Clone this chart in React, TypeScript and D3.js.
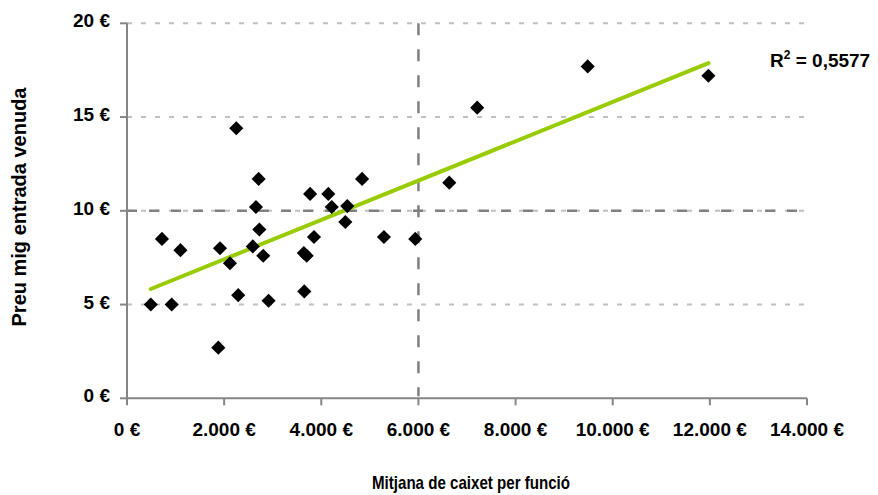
import { scaleLinear, symbol, symbolSquare, formatLocale, line } from "d3";

// average box office per show (€) vs average ticket price (€)
const boxOffice = [
  490, 920, 720, 1100, 2250, 1915, 2120, 2290, 2710, 2655, 2725, 2590, 2805, 2915, 3650,
  3640, 3700, 3770, 3850, 4145, 4215, 4535, 4495, 4840, 5290, 5935, 6635, 7210, 9485, 11970, 1880,
];
const ticketPrice = [
  5.0, 5.0, 8.5, 7.9, 14.4, 8.0, 7.2, 5.5, 11.7, 10.2, 9.0, 8.1, 7.6, 5.2, 5.7,
  7.75, 7.6, 10.9, 8.6, 10.9, 10.2, 10.25, 9.4, 11.7, 8.6, 8.5, 11.5, 15.5, 17.7, 17.2, 2.7,
];
const xTicks = [0, 2000, 4000, 6000, 8000, 10000, 12000, 14000];
const yTicks = [0, 5, 10, 15, 20];
const refX = 6000;
const refY = 10;
const r2Label = "0,5577";

const WIDTH = 878;
const HEIGHT = 495;
const FONT = "'Liberation Sans', Arial, sans-serif";
const AXIS = "#868686";

const locale = formatLocale({ decimal: ",", thousands: ".", grouping: [3], currency: ["", " €"] });
const euro = (v: number) => `${locale.format(",")(v)} €`;

export default function App() {
  const x = scaleLinear().domain([0, 14000]).range([127, 807]);
  const y = scaleLinear().domain([0, 20]).range([398.3, 23.3]);

  // least squares trend line
  const n = boxOffice.length;
  const mx = boxOffice.reduce((a, b) => a + b, 0) / n;
  const my = ticketPrice.reduce((a, b) => a + b, 0) / n;
  let sxy = 0;
  let sxx = 0;
  boxOffice.forEach((v, i) => {
    sxy += (v - mx) * (ticketPrice[i] - my);
    sxx += (v - mx) * (v - mx);
  });
  const slope = sxy / sxx;
  const icpt = my - slope * mx;
  const x0 = Math.min(...boxOffice);
  const x1 = Math.max(...boxOffice);
  const trend = line<number>()
    .x((d) => x(d))
    .y((d) => y(icpt + slope * d))([x0, x1]);

  const diamond = symbol(symbolSquare, 100)();

  return (
    <div style={{ position: "absolute", left: 0, top: 0 }}>
      <svg width={WIDTH} height={HEIGHT} style={{ display: "block", fontFamily: FONT }}>
        <rect width={WIDTH} height={HEIGHT} fill="#fff" />

        {/* Gridlines */}
        {yTicks.filter((t) => t > 0).map((t) => (
          <line key={t} x1={x(0)} x2={x(14000) - 3} y1={y(t)} y2={y(t)} stroke="#c0c0c0" strokeWidth={2} strokeDasharray="5,9" />
        ))}

        {/* Reference lines */}
        <line x1={x(0)} x2={x(14000) - 3} y1={y(refY)} y2={y(refY)} stroke="#808080" strokeWidth={2.5} strokeDasharray="10,12" />
        <line x1={x(refX)} x2={x(refX)} y1={y(20)} y2={y(0) - 2} stroke="#808080" strokeWidth={2.5} strokeDasharray="12,14" />

        {/* Axes */}
        <line x1={x(0)} x2={x(0)} y1={y(20)} y2={y(0)} stroke={AXIS} strokeWidth={2} />
        <line x1={x(0)} x2={x(14000)} y1={y(0)} y2={y(0)} stroke={AXIS} strokeWidth={2} />
        {yTicks.map((t) => (
          <g key={t}>
            <line x1={x(0) - 7} x2={x(0)} y1={y(t)} y2={y(t)} stroke={AXIS} strokeWidth={2} />
            <text x={110} y={y(t) + 4} textAnchor="end" fontSize={19} fontWeight="bold" fill="#000">
              {t} €
            </text>
          </g>
        ))}
        {xTicks.map((t) => (
          <g key={t}>
            <line x1={x(t)} x2={x(t)} y1={y(0)} y2={y(0) + 7} stroke={AXIS} strokeWidth={2} />
            <text x={x(t)} y={436} textAnchor="middle" fontSize={19} fontWeight="bold" fill="#000">
              {euro(t)}
            </text>
          </g>
        ))}

        {/* Trend line */}
        <path d={trend ?? ""} fill="none" stroke="#99cc00" strokeWidth={4} strokeLinecap="round" />

        {/* Points */}
        {boxOffice.map((v, i) => (
          <path key={i} d={diamond ?? ""} transform={`translate(${x(v)},${y(ticketPrice[i])}) rotate(45)`} fill="#000" />
        ))}

        <text x={770} y={67} fontSize={19} fontWeight="bold" fill="#000">
          R<tspan fontSize={12} dy={-8}>2</tspan>
          <tspan dy={8}> = {r2Label}</tspan>
        </text>

        {/* Axis titles */}
        <text transform="translate(26,207) rotate(-90)" textAnchor="middle" fontSize={20} fontWeight="bold" fill="#000">
          Preu mig entrada venuda
        </text>
        <text
          x={471}
          y={489}
          textAnchor="middle"
          fontSize={19}
          fontWeight="bold"
          fill="#000"
          textLength={198}
          lengthAdjust="spacingAndGlyphs"
        >
          Mitjana de caixet per funció
        </text>
      </svg>
    </div>
  );
}
